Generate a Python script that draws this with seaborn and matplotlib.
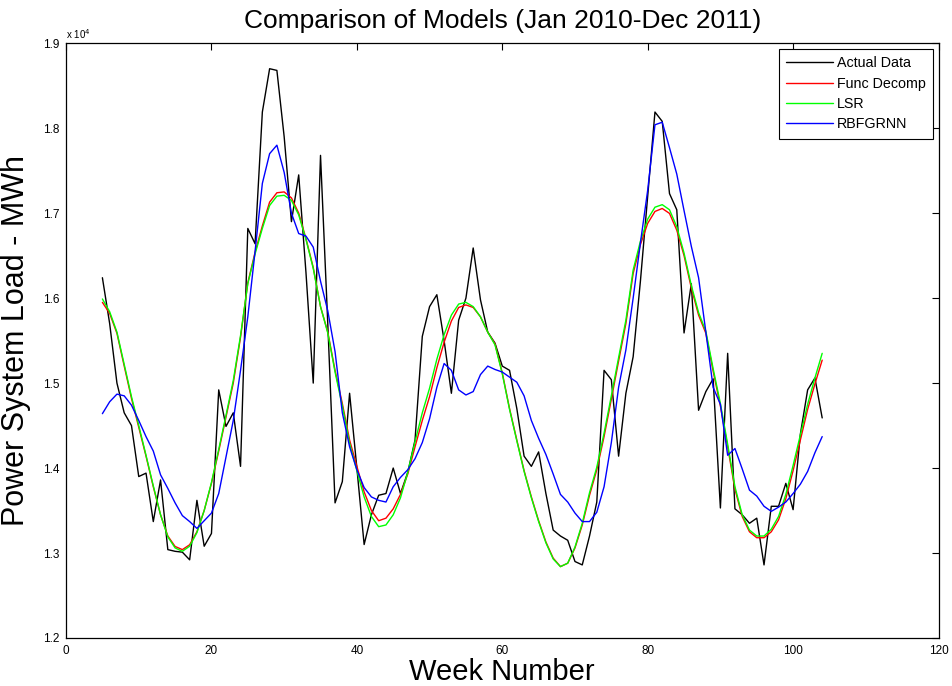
import numpy as np
import pandas as pd
import matplotlib
matplotlib.use("Agg")
import matplotlib.pyplot as plt
import seaborn as sns

weeks = list(range(5, 105))

actual = [16240, 15700, 15000, 14650, 14500, 13900, 13940, 13370, 13860, 13040,
          13020, 13010, 12920, 13620, 13080, 13230, 14920, 14490, 14650, 14020,
          16820, 16640, 18190, 18700, 18680, 17900, 16900, 17450, 16300, 15000,
          17680, 15700, 13590, 13840, 14880, 14000, 13100, 13450, 13680, 13700,
          14000, 13700, 13950, 14330, 15550, 15900, 16040, 15500, 14880, 15740,
          16000, 16590, 15980, 15600, 15470, 15200, 15150, 14700, 14140, 14020,
          14190, 13700, 13270, 13200, 13150, 12900, 12860, 13200, 13600, 15150,
          15040, 14140, 14880, 15310, 16200, 17200, 18190, 18080, 17230, 17040,
          15590, 16170, 14680, 14900, 15050, 13530, 15350, 13520, 13450, 13350,
          13410, 12860, 13550, 13550, 13820, 13510, 14400, 14920, 15060, 14590]

func_decomp = [15950, 15820, 15586, 15200, 14820, 14480, 14140, 13780, 13450, 13200,
               13077, 13040, 13097, 13250, 13500, 13820, 14200, 14600, 15000, 15540,
               16180, 16540, 16850, 17130, 17240, 17250, 17180, 17000, 16700, 16360,
               15900, 15600, 15150, 14760, 14330, 14020, 13720, 13500, 13380, 13410,
               13520, 13690, 13930, 14250, 14560, 14840, 15180, 15480, 15730, 15890,
               15920, 15890, 15780, 15600, 15460, 15120, 14700, 14330, 13970, 13660,
               13380, 13130, 12940, 12840, 12880, 13060, 13330, 13680, 13980, 14370,
               14810, 15260, 15700, 16290, 16630, 16880, 17020, 17055, 16997, 16800,
               16500, 16120, 15800, 15586, 15140, 14730, 14250, 13750, 13430, 13250,
               13180, 13180, 13250, 13390, 13640, 13970, 14330, 14690, 14990, 15270]

lsr = [15990, 15840, 15600, 15220, 14840, 14500, 14150, 13790, 13450, 13190,
       13060, 13020, 13080, 13240, 13500, 13830, 14220, 14620, 15030, 15560,
       16170, 16520, 16820, 17090, 17200, 17210, 17150, 16980, 16690, 16350,
       15900, 15590, 15130, 14730, 14290, 13970, 13660, 13430, 13310, 13330,
       13450, 13650, 13950, 14310, 14650, 14940, 15280, 15570, 15800, 15930,
       15950, 15900, 15780, 15600, 15450, 15110, 14690, 14320, 13960, 13650,
       13370, 13120, 12930, 12840, 12880, 13070, 13350, 13710, 14010, 14410,
       14850, 15300, 15740, 16330, 16670, 16930, 17070, 17100, 17040, 16840,
       16530, 16150, 15830, 15610, 15170, 14760, 14280, 13780, 13450, 13270,
       13200, 13200, 13280, 13430, 13690, 14030, 14390, 14750, 15060, 15350]

rbfgrnn = [14640, 14780, 14870, 14850, 14740, 14560, 14370, 14200, 13920, 13760,
           13590, 13440, 13370, 13290, 13380, 13470, 13700, 14130, 14560, 15150,
           15780, 16550, 17350, 17700, 17800, 17480, 17000, 16760, 16730, 16600,
           16200, 15850, 15370, 14650, 14250, 13980, 13770, 13660, 13620, 13600,
           13780, 13890, 13980, 14110, 14300, 14580, 14950, 15230, 15150, 14920,
           14860, 14900, 15100, 15200, 15160, 15130, 15070, 15010, 14850, 14560,
           14350, 14160, 13930, 13690, 13600, 13470, 13370, 13370, 13480, 13780,
           14300, 14950, 15390, 16000, 16650, 17270, 18040, 18070, 17770, 17460,
           17030, 16610, 16240, 15600, 14950, 14750, 14150, 14230, 13990, 13740,
           13670, 13550, 13490, 13540, 13600, 13700, 13810, 13960, 14180, 14370]

series_names = ["Actual Data", "Func Decomp", "LSR", "RBFGRNN"]
series_colors = ["#000000", "#ff0000", "#00ff00", "#0000ff"]
x_ticks = [0, 20, 40, 60, 80, 100, 120]
y_ticks = [12000, 13000, 14000, 15000, 16000, 17000, 18000, 19000]

frames = []
for name, vals in zip(series_names, [actual, func_decomp, lsr, rbfgrnn]):
    frames.append(pd.DataFrame({"Week": weeks, "Load": vals, "Model": name}))
df = pd.concat(frames, ignore_index=True)

sns.set_style("white")
plt.rcParams["font.family"] = ["Liberation Sans", "DejaVu Sans"]
plt.rcParams["text.color"] = "black"
plt.rcParams["axes.labelcolor"] = "black"
plt.rcParams["xtick.color"] = "black"
plt.rcParams["ytick.color"] = "black"

fig = plt.figure(figsize=(9.53, 6.86), dpi=100)
ax = fig.add_axes([0.0693, 0.070, 0.9155, 0.867])

sns.lineplot(data=df, x="Week", y="Load", hue="Model", hue_order=series_names,
             palette=dict(zip(series_names, series_colors)), estimator=None,
             sort=False, linewidth=1.0, ax=ax)

ax.set_xlim(0, 120)
ax.set_ylim(12000, 19000)
ax.set_xticks(x_ticks)
ax.set_xticklabels([str(t) for t in x_ticks])
ax.set_yticks(y_ticks)
ax.set_yticklabels([f"{t/1e4:.1f}" for t in y_ticks])
ax.tick_params(direction="in", top=True, right=True, length=5, width=0.8,
               labelsize=8.5, colors="black", pad=5)
for s in ax.spines.values():
    s.set_color("black")
    s.set_linewidth(0.9)

ax.text(0.0, 1.004, r"x 10$^4$", transform=ax.transAxes, fontsize=7,
        ha="left", va="bottom", color="black")

ax.set_title("Comparison of Models (Jan 2010-Dec 2011)", fontsize=19, pad=11,
             color="black")
ax.set_xlabel("Week Number", fontsize=21, labelpad=1)
ax.set_ylabel("Power System Load - MWh", fontsize=22, labelpad=8)

handles, labels = ax.get_legend_handles_labels()
leg = ax.legend(handles, labels, loc="upper right", fontsize=10.3,
                frameon=True, fancybox=False, framealpha=1, edgecolor="black",
                handlelength=3.3, handletextpad=0.25, labelspacing=0.45,
                borderpad=0.5, borderaxespad=0.4)
leg.get_frame().set_linewidth(0.8)
for t in leg.get_texts():
    t.set_color("black")
for line in leg.get_lines():
    line.set_linewidth(1.0)

fig.savefig("out.png", dpi=100)
